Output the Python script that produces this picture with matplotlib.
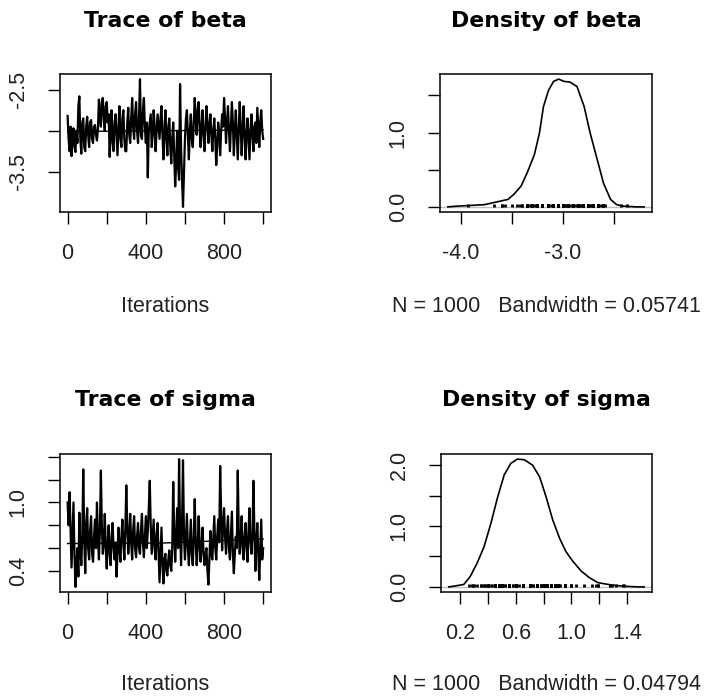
"""
MCMC diagnostics (coda-style): trace and density plots for beta and sigma.
Writes out.png (708x697).
"""

import matplotlib
matplotlib.use("Agg")
import matplotlib.pyplot as plt
import numpy as np

W, H = 708, 697
DPI = 100

# ---------------------------------------------------------------------------
# Data
# ---------------------------------------------------------------------------

trace_step = 5  # one value every 5 iterations

beta_trace = [
    # 0 - 95
    -2.82, -3.10, -3.25, -2.95, -3.31, -3.05, -2.97, -3.20, -3.26, -3.00,
    -3.15, -2.70, -2.58, -3.10, -3.28, -2.90, -2.85, -3.20, -3.25, -2.95,
    # 100 - 195
    -2.83, -3.05, -3.20, -2.90, -2.87, -3.10, -3.15, -2.95, -2.93, -3.05,
    -3.12, -2.98, -2.62, -2.80, -2.95, -2.65, -2.60, -2.85, -3.00, -2.70,
    # 200 - 295
    -2.65, -2.90, -2.80, -3.32, -3.00, -2.75, -3.15, -3.25, -2.90, -2.80,
    -3.05, -3.30, -2.95, -2.70, -3.10, -3.20, -2.85, -2.75, -3.10, -3.25,
    # 300 - 395
    -3.25, -2.90, -2.72, -3.05, -3.15, -2.85, -2.60, -2.95, -3.10, -2.80,
    -2.65, -3.00, -3.15, -2.85, -2.37, -3.05, -3.10, -2.75, -2.60, -2.95,
    # 400 - 495
    -3.15, -2.90, -3.57, -3.00, -2.90, -2.80, -3.20, -3.05, -2.75, -2.95,
    -3.25, -3.00, -2.80, -2.95, -3.10, -2.85, -2.70, -3.05, -3.35, -3.00,
    # 500 - 595
    -2.75, -3.10, -3.30, -2.95, -2.85, -3.20, -3.40, -3.10, -2.90, -3.30,
    -3.68, -3.40, -3.00, -3.45, -3.60, -2.43, -3.20, -3.60, -3.93, -3.50,
    # 600 - 695
    -3.10, -2.85, -2.75, -3.05, -3.35, -3.00, -2.80, -3.10, -3.20, -2.90,
    -2.60, -2.85, -3.05, -2.75, -2.65, -2.95, -3.20, -2.95, -2.75, -3.05,
    # 700 - 795
    -3.25, -2.95, -2.70, -2.90, -3.15, -2.95, -2.80, -3.05, -3.25, -3.00,
    -2.85, -3.10, -3.42, -3.15, -2.90, -3.05, -3.30, -3.00, -2.80, -2.95,
    # 800 - 895
    -2.60, -2.85, -3.15, -2.90, -2.70, -3.00, -3.25, -2.95, -2.65, -2.90,
    -3.30, -3.00, -2.75, -3.05, -3.35, -3.00, -2.65, -2.95, -3.30, -3.00,
    # 900 - 1000
    -2.70, -3.05, -3.35, -3.05, -2.85, -3.10, -3.35, -3.00, -2.80, -3.05,
    -3.25, -2.95, -2.90, -3.15, -2.72, -2.95, -3.20, -2.90, -2.75, -3.00,
    -3.10,
]

sigma_trace = [
    # 0 - 95
    1.00, 0.80, 1.09, 0.75, 0.43, 0.70, 1.00, 0.55, 0.26, 0.45,
    0.60, 0.35, 0.91, 0.60, 0.45, 0.70, 1.29, 0.70, 0.38, 0.80,
    # 100 - 195
    0.95, 0.60, 0.50, 0.75, 0.88, 0.55, 0.48, 0.70, 0.85, 0.60,
    1.00, 0.70, 0.50, 0.75, 1.28, 0.80, 0.55, 0.65, 0.90, 0.60,
    # 200 - 295
    0.42, 0.65, 0.80, 0.55, 0.45, 0.70, 0.82, 0.60, 0.50, 0.65,
    0.35, 0.55, 0.78, 0.60, 0.48, 0.70, 0.85, 0.65, 0.50, 0.75,
    # 300 - 395
    1.15, 0.80, 0.55, 0.70, 0.90, 0.65, 0.50, 0.75, 0.88, 0.60,
    0.52, 0.70, 0.82, 0.60, 0.55, 0.75, 0.90, 0.65, 0.52, 0.70,
    # 400 - 495
    0.88, 0.60, 0.75, 0.95, 1.19, 0.80, 0.55, 0.70, 0.85, 0.60,
    0.50, 0.72, 0.82, 0.55, 0.30, 0.55, 0.78, 0.45, 0.29, 0.50,
    # 500 - 595
    0.55, 0.40, 0.36, 0.50, 0.58, 0.45, 0.40, 0.60, 1.18, 0.75,
    0.48, 0.70, 0.95, 0.60, 1.38, 0.75, 0.45, 0.80, 1.37, 0.70,
    # 600 - 695
    0.50, 0.70, 0.90, 0.60, 0.45, 0.65, 0.85, 0.55, 0.45, 0.70,
    1.03, 0.65, 0.45, 0.60, 0.88, 0.65, 0.48, 0.62, 0.78, 0.55,
    # 700 - 795
    0.45, 0.55, 0.60, 0.40, 0.28, 0.50, 0.75, 0.55, 0.50, 0.70,
    0.88, 0.60, 0.50, 0.70, 0.85, 0.65, 1.32, 0.90, 0.58, 0.80,
    # 800 - 895
    0.95, 0.70, 0.55, 0.75, 0.88, 0.60, 0.50, 0.72, 0.92, 0.55,
    0.38, 0.55, 0.70, 0.60, 1.28, 0.75, 0.55, 0.70, 0.88, 0.60,
    # 900 - 1000
    0.50, 0.70, 0.82, 0.60, 0.48, 0.75, 0.95, 0.65, 0.55, 0.70,
    1.19, 0.75, 0.40, 0.65, 0.82, 0.55, 0.32, 0.60, 0.85, 0.50,
    0.60,
]

# smoothed (lowess-like) line through each trace
smooth_iter = [0, 500, 1000]
beta_smooth = [-3.01, -3.00, -2.99]
sigma_smooth = [0.64, 0.645, 0.68]

# kernel density estimates
beta_dens_x = [-4.13, -4.04, -3.77, -3.64, -3.54, -3.48, -3.41, -3.35, -3.28,
               -3.23, -3.19, -3.14, -3.09, -3.04, -2.99, -2.93, -2.86, -2.79,
               -2.73, -2.66, -2.60, -2.53, -2.47, -2.40, -2.28, -2.20]
beta_dens_y = [0.00, 0.01, 0.03, 0.07, 0.10, 0.17, 0.28, 0.46, 0.70,
               0.99, 1.35, 1.57, 1.69, 1.72, 1.69, 1.68, 1.62, 1.35,
               0.99, 0.63, 0.32, 0.10, 0.03, 0.01, 0.00, 0.00]

sigma_dens_x = [0.116, 0.147, 0.224, 0.27, 0.32, 0.37, 0.42, 0.466, 0.515,
                0.563, 0.61, 0.66, 0.72, 0.77, 0.817, 0.865, 0.914, 0.96,
                1.01, 1.07, 1.13, 1.19, 1.29, 1.385, 1.48, 1.524]
sigma_dens_y = [0.00, 0.01, 0.04, 0.17, 0.39, 0.66, 1.05, 1.46, 1.84,
                2.03, 2.10, 2.09, 2.00, 1.81, 1.48, 1.10, 0.80, 0.58,
                0.42, 0.26, 0.15, 0.07, 0.03, 0.01, 0.00, 0.00]

n_iter = 1000
beta_bw = "0.05741"
sigma_bw = "0.04794"

# ticks and their (partly omitted) labels
iter_ticks = [0, 200, 400, 600, 800, 1000]
iter_labels = ["0", "", "400", "", "800", ""]
beta_trace_yticks = [-3.5, -3.0, -2.5]
beta_trace_ylabels = ["-3.5", "", "-2.5"]
sigma_trace_yticks = [0.4, 0.6, 0.8, 1.0, 1.2, 1.4]
sigma_trace_ylabels = ["0.4", "", "", "1.0", "", ""]
beta_dens_xticks = [-4.0, -3.5, -3.0, -2.5]
beta_dens_xlabels = ["-4.0", "", "-3.0", ""]
beta_dens_yticks = [0.0, 0.5, 1.0, 1.5]
beta_dens_ylabels = ["0.0", "", "1.0", ""]
sigma_dens_xticks = [0.2, 0.4, 0.6, 0.8, 1.0, 1.2, 1.4]
sigma_dens_xlabels = ["0.2", "", "0.6", "", "1.0", "", "1.4"]
sigma_dens_yticks = [0.0, 0.5, 1.0, 1.5, 2.0]
sigma_dens_ylabels = ["0.0", "", "1.0", "", "2.0"]


# ---------------------------------------------------------------------------
# Helpers
# ---------------------------------------------------------------------------

LABEL_FONT = "Liberation Sans"
TITLE_FONT = "DejaVu Sans"
FS = 15.5


def px_axes(fig, x0, y0, x1, y1):
    """Axes from pixel box (top-left origin)."""
    return fig.add_axes([x0 / W, 1 - y1 / H, (x1 - x0) / W, (y1 - y0) / H])


def r_range(lo, hi):
    """R's default 4 % axis extension."""
    pad = 0.04 * (hi - lo)
    return lo - pad, hi + pad


def style(ax, xticks, xlabels, yticks, ylabels):
    for s in ax.spines.values():
        s.set_linewidth(1.1)
    ax.set_xticks(xticks)
    ax.set_xticklabels(xlabels)
    ax.set_yticks(yticks)
    ax.set_yticklabels(ylabels, rotation=90, va="center")
    ax.tick_params(direction="out", length=8.5, width=1.0, pad=14,
                   labelsize=FS, colors="black")
    for lab in ax.get_xticklabels() + ax.get_yticklabels():
        lab.set_fontfamily(LABEL_FONT)
        lab.set_color("#222222")


def title(fig, text, xc, yc):
    fig.text(xc / W, 1 - yc / H, text, ha="center", va="center",
             fontsize=15.8, weight="bold", family=TITLE_FONT)


def xlabel(fig, text, xc, yc):
    fig.text(xc / W, 1 - yc / H, text, ha="center", va="center",
             fontsize=FS, family=LABEL_FONT, color="#222222")


def trace_panel(fig, box, values, smooth, name, yticks, ylabels, title_y, label_y):
    ax = px_axes(fig, *box)
    it = np.arange(len(values)) * trace_step
    ax.plot(it, values, color="black", lw=1.6)
    ax.plot(smooth_iter, smooth, color="black", lw=1.0)
    ax.set_xlim(*r_range(1, n_iter))
    ax.set_ylim(*r_range(min(values), max(values)))
    style(ax, iter_ticks, iter_labels, yticks, ylabels)
    xc = (box[0] + box[2]) / 2
    title(fig, f"Trace of {name}", xc, title_y)
    xlabel(fig, "Iterations", xc, label_y)


def density_panel(fig, box, dx, dy, obs, name, bw, xticks, xlabels,
                  yticks, ylabels, title_y, label_y):
    ax = px_axes(fig, *box)
    ax.set_xlim(*r_range(min(dx), max(dx)))
    ax.set_ylim(*r_range(0, max(dy)))
    ax.axhline(0, color="#bebebe", lw=1.0, zorder=1)
    ax.plot(dx, dy, color="black", lw=1.2, zorder=3)
    # observations drawn as tiny spikes on the baseline
    ax.vlines(obs, 0, max(dy) / 40, color="black", lw=2.0, zorder=2)
    style(ax, xticks, xlabels, yticks, ylabels)
    xc = (box[0] + box[2]) / 2
    title(fig, f"Density of {name}", xc, title_y)
    xlabel(fig, f"N = {n_iter}   Bandwidth = {bw}", xc, label_y)


# ---------------------------------------------------------------------------
# Figure
# ---------------------------------------------------------------------------

fig = plt.figure(figsize=(W / DPI, H / DPI), dpi=DPI)

trace_panel(fig, (60, 74, 271, 212), beta_trace, beta_smooth, "beta",
            beta_trace_yticks, beta_trace_ylabels, 21, 307)
density_panel(fig, (440, 74, 652, 212), beta_dens_x, beta_dens_y, beta_trace,
              "beta", beta_bw, beta_dens_xticks, beta_dens_xlabels,
              beta_dens_yticks, beta_dens_ylabels, 21, 307)
trace_panel(fig, (60, 454, 271, 592), sigma_trace, sigma_smooth, "sigma",
            sigma_trace_yticks, sigma_trace_ylabels, 400, 685)
density_panel(fig, (441, 454, 652, 592), sigma_dens_x, sigma_dens_y,
              sigma_trace, "sigma", sigma_bw, sigma_dens_xticks,
              sigma_dens_xlabels, sigma_dens_yticks, sigma_dens_ylabels,
              400, 685)

fig.savefig("out.png", dpi=DPI)
plt.close(fig)
